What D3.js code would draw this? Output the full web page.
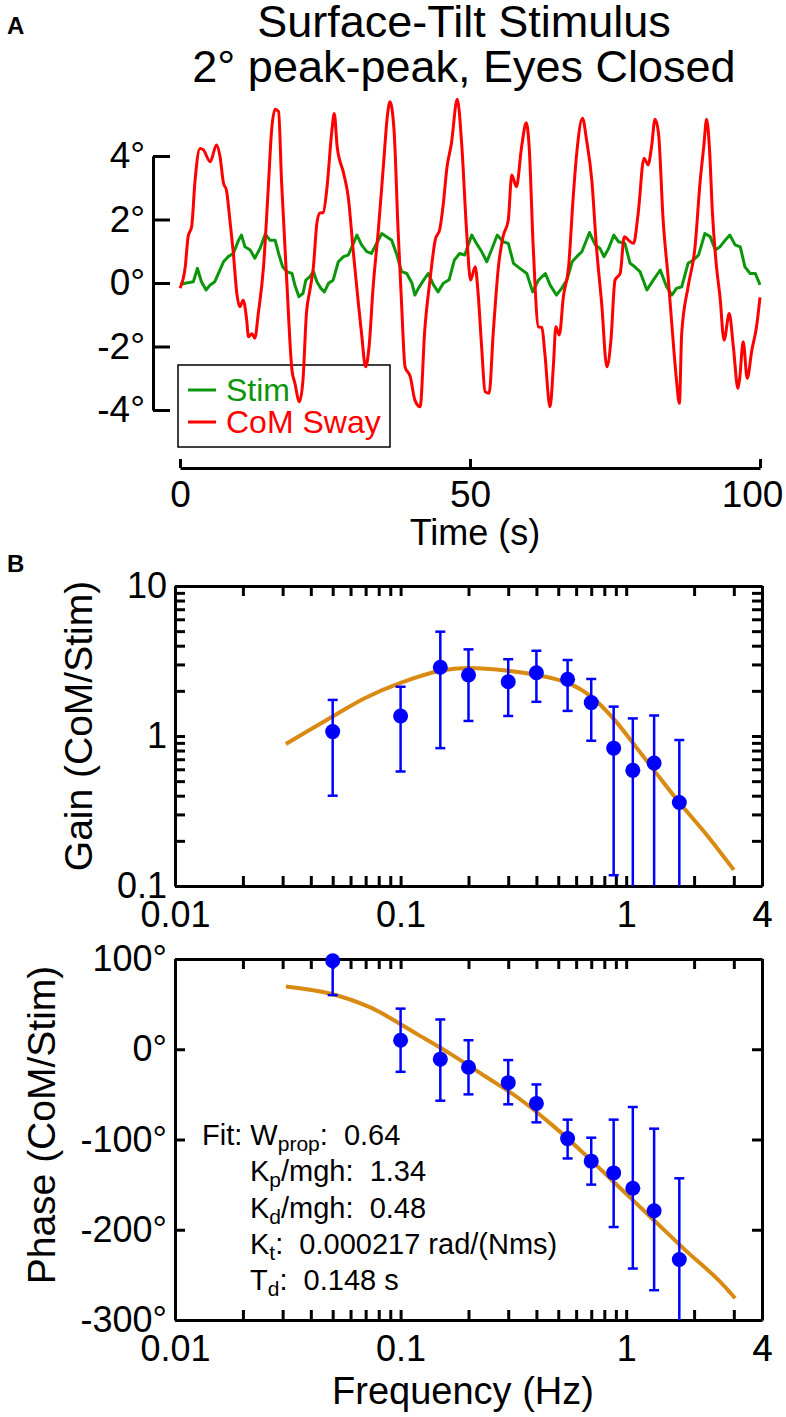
<!DOCTYPE html>
<html><head><meta charset="utf-8">
<script src="https://cdn.jsdelivr.net/npm/d3@7"></script>
<style>
html,body{margin:0;padding:0;background:#fff;}
svg{display:block;font-family:"Liberation Sans",Arial,Helvetica,sans-serif;}
</style></head><body>
<svg id="fig" width="786" height="1417"></svg>
<script>
// ---------------- Panel A data ----------------
const titleLines = ["Surface-Tilt Stimulus", "2° peak-peak, Eyes Closed"];
const timeTicks = [0, 50, 100];
const angleTicks = [-4, -2, 0, 2, 4];
const swayTime = [0,0.9,1.4,2.0,2.6,3.45,4.0,5.2,6.3,6.9,7.5,8.0,8.6,9.2,9.8,10.3,10.9,11.5,11.8,12.4,12.9,13.5,14.4,15.2,15.8,16.4,17.0,17.5,18.4,19.3,19.8,20.6,21.2,21.8,22.4,23.0,23.6,24.1,24.7,25.3,26.2,26.6,27.1,28.2,29.0,29.9,30.7,31.3,32.0,32.6,33.3,34.2,35.1,35.8,36.2,36.9,37.6,38.2,38.8,39.7,40.5,41.4,42.2,43.1,44.0,44.8,45.4,46.0,46.8,47.8,48.6,49.4,50.1,50.9,51.4,52.0,52.6,53.3,54.0,54.9,55.7,56.6,57.2,58.0,58.9,59.7,60.2,60.9,61.8,62.4,62.9,63.8,64.4,64.8,65.4,66.1,67.0,67.8,68.4,69.4,70.1,71.0,71.8,72.7,73.6,74.3,75.0,75.9,76.6,77.3,78.2,79.0,80.0,80.7,81.3,81.9,82.5,83.3,84.2,85.1,85.6,86.1,86.5,87.6,88.8,89.7,90.3,90.8,91.3,91.8,92.5,93.1,93.8,94.7,95.4,96.2,96.5,97.1,97.8,98.6,99.4,100];
const swayDeg = [-0.16,0.5,1.46,1.77,3.24,4.24,4.2,3.82,4.35,3.98,3.14,2.93,1.98,0.93,-0.33,-0.75,-0.54,-1.17,-1.69,-1.6,-1.74,-0.96,0.51,2.93,4.82,5.47,5.4,3.24,0.09,-2.74,-3.15,-3.74,-3.06,-0.96,-0.22,0.51,1.88,2.2,2.22,2.93,4.82,5.34,4.29,3.46,2.72,0.94,-0.54,-1.59,-2.64,-2.0,-0.12,1.67,3.77,5.34,5.71,4.82,1.67,-0.64,-2.64,-2.95,-3.69,-3.9,-1.48,0.09,1.35,1.7,2.5,3.6,4.4,5.79,4.29,1.67,0.09,0.51,-0.33,-2.0,-3.42,-3.47,-1.59,0.51,1.46,1.98,3.4,3.03,4.29,5.05,4.29,1.14,-1.38,-1.4,-2.21,-3.9,-2.53,-1.38,-1.64,-0.43,0.51,2.72,4.08,5.19,4.5,3.24,1.14,-0.64,-2.64,-1.8,0.09,0.31,1.46,1.35,1.25,2.2,3.93,3.72,4.29,5.16,4.72,1.98,0.09,-2.0,-3.06,-3.79,-1.59,-0.12,1.14,3.24,4.29,5.16,4.19,2.2,0.51,-0.43,-1.8,-0.96,-2.0,-3.32,-3.0,-1.85,-3.0,-2.11,-1.38,-0.45];
const stimTime = [0,2.3,3.0,3.7,4.5,5.2,6.0,6.9,7.5,8.3,9.2,10.1,10.6,11.2,12.1,12.9,13.8,14.7,15.5,16.4,17.0,17.7,18.4,19.3,19.8,20.5,21.2,21.7,22.4,23.0,23.6,24.3,24.9,25.6,26.4,27.3,28.2,29.0,29.9,30.5,31.3,32.2,33.0,33.9,34.8,35.6,36.5,37.4,38.2,39.1,40.0,40.5,41.1,42.0,42.8,43.7,44.5,45.4,46.4,47.3,48.2,49.1,50.3,51.1,52.0,52.9,53.7,54.7,55.7,56.6,57.5,58.6,59.8,60.8,61.8,63.0,63.8,64.9,65.8,66.7,67.6,68.4,69.3,70.6,71.6,72.4,73.1,73.9,74.8,75.6,76.7,77.6,78.4,79.3,80.5,81.6,82.8,83.9,84.8,85.6,86.5,87.6,88.5,89.4,90.5,91.4,92.3,93.1,94.0,94.8,95.7,96.6,97.4,98.3,99.2,100];
const stimDeg = [-0.04,0.04,0.46,0.04,-0.22,-0.06,0.04,0.41,0.67,0.83,0.93,1.35,1.51,1.14,1.04,0.78,1.09,1.54,1.35,1.35,0.93,0.51,0.36,0.3,-0.06,-0.43,-0.33,0.09,0.2,0.36,0.04,-0.17,-0.28,-0.01,0.09,0.67,0.83,0.88,1.25,1.51,1.2,0.99,0.93,1.25,1.56,1.46,1.35,0.88,0.36,0.3,-0.01,-0.38,-0.17,0.09,0.3,-0.06,-0.28,-0.01,0.1,0.72,0.93,0.88,1.51,1.25,0.99,0.67,1.04,1.51,1.3,1.25,0.62,0.46,0.3,-0.28,0.09,0.3,-0.06,-0.38,-0.17,0.09,0.67,0.83,0.99,1.59,1.2,1.09,0.83,1.09,1.51,1.3,1.25,0.62,0.51,0.36,-0.22,0.09,0.41,-0.12,-0.38,-0.17,-0.12,0.62,0.72,0.88,1.56,1.46,1.04,1.14,1.35,1.51,1.2,1.14,0.51,0.3,0.3,-0.06];
const legendLabels = ["Stim", "CoM Sway"];

// ---------------- Panel B data ----------------
const freqLabelVals = [0.01, 0.1, 1, 4];
const freqLabels = ["0.01", "0.1", "1", "4"];
const gainLabelVals = [0.1, 1, 10];
const gainLabels = ["0.1", "1", "10"];
const phaseTicks = [-300, -200, -100, 0, 100];
const freq = [0.05, 0.1, 0.15, 0.2, 0.3, 0.4, 0.55, 0.7, 0.88, 1.07, 1.33, 1.72];
const gain = [1.07, 1.36, 2.87, 2.55, 2.30, 2.64, 2.39, 1.67, 0.83, 0.59, 0.66, 0.36];
const gainHi = [1.74, 2.13, 4.96, 3.78, 3.25, 3.70, 3.21, 2.40, 1.57, 1.31, 1.37, 0.94];
const gainLo = [0.40, 0.58, 0.83, 1.26, 1.36, 1.69, 1.47, 0.93, 0.118, 0.05, 0.05, 0.05];
const phase = [98, 10, -11, -20, -37, -60, -99, -124, -137, -154, -179, -233];
const phaseHi = [136, 45, 33, 10, -12, -39, -78, -98, -78, -64, -88, -143];
const phaseLo = [60, -25, -57, -50, -61, -81, -121, -150, -197, -243, -267, -340];
const fitGainFreq = [0.031, 0.05, 0.07, 0.1, 0.15, 0.2, 0.3, 0.4, 0.55, 0.7, 0.88, 1.07, 1.33, 1.72, 2.3, 3.0];
const fitGain = [0.885, 1.35, 1.80, 2.26, 2.72, 2.84, 2.72, 2.55, 2.26, 1.83, 1.30, 0.90, 0.59, 0.36, 0.215, 0.128];
const fitPhaseFreq = [0.031, 0.0485, 0.073, 0.0975, 0.12, 0.169, 0.238, 0.334, 0.469, 0.659, 0.925, 1.30, 1.824, 2.56, 3.04];
const fitPhase = [69.5, 61.8, 46.6, 29.4, 15.9, -6.2, -30.2, -54.3, -83.8, -117, -152.1, -187.3, -222.3, -255.5, -275.9];
const NB = "\u00a0";
const fitText = [
  {pre: "Fit: W", sub: "prop", post: ":" + NB + NB + "0.64"},
  {pre: "K", sub: "p", post: "/mgh:" + NB + NB + "1.34"},
  {pre: "K", sub: "d", post: "/mgh:" + NB + NB + "0.48"},
  {pre: "K", sub: "t", post: ":" + NB + NB + "0.000217 rad/(Nms)"},
  {pre: "T", sub: "d", post: ":" + NB + NB + "0.148 s"}
];

// ---------------- drawing ----------------
const RED = "#ff0000", GREEN = "#0c960c", BLUE = "#0000ff", ORANGE = "#d98a12";
const svg = d3.select("#fig");
svg.append("rect").attr("width", 786).attr("height", 1417).attr("fill", "#fff");

function styleAxis(g, fs) {
  g.attr("font-family", null).attr("font-size", null);
  g.selectAll("path.domain").attr("stroke", "#000").attr("stroke-width", 3);
  g.selectAll(".tick line").attr("stroke", "#000").attr("stroke-width", 3);
  g.selectAll(".tick text").attr("fill", "#000").style("font-size", fs + "px");
}

// Panel labels
const panelFont = '"Liberation Sans Narrow","Liberation Sans",Arial,sans-serif';
svg.append("text").attr("x", 7).attr("y", 34).attr("font-weight", "bold").style("font-family", panelFont).style("font-size", "24px").text("A");
svg.append("text").attr("x", 7).attr("y", 572).attr("font-weight", "bold").style("font-family", panelFont).style("font-size", "24px").text("B");

// Title
svg.selectAll("text.title").data(titleLines).enter().append("text")
  .attr("class", "title").attr("x", 464).attr("y", (d, i) => 37 + i * 45)
  .attr("text-anchor", "middle").style("font-size", "45px").text(d => d);

// Panel A scales
const xA = d3.scaleLinear().domain([0, 100]).range([180, 760]);
const yA = d3.scaleLinear().domain([-4, 4]).range([410, 156]);

const gyA = svg.append("g").attr("transform", "translate(153,0)")
  .call(d3.axisLeft(yA).tickValues(angleTicks).tickFormat(d => d + "°").tickSizeInner(-17).tickSizeOuter(0).tickPadding(8));
styleAxis(gyA, 37);
const gxA = svg.append("g").attr("transform", "translate(0,468)")
  .call(d3.axisBottom(xA).tickValues(timeTicks).tickFormat(d => String(d)).tickSizeInner(-9).tickSizeOuter(0).tickPadding(13));
styleAxis(gxA, 37);
gxA.selectAll(".tick text").filter(d => d === 100).attr("x", -8);
svg.append("text").attr("x", 475).attr("y", 545).attr("text-anchor", "middle").style("font-size", "36px").text("Time (s)");

// Legend box (no fill, traces show through)
const legY = d3.scaleBand().domain(legendLabels).range([374, 438]);
svg.append("rect").attr("x", 178).attr("y", 365).attr("width", 212).attr("height", 82)
  .attr("fill", "none").attr("stroke", "#000").attr("stroke-width", 1.5);
const legColors = [GREEN, RED];
legendLabels.forEach((lab, i) => {
  const cy = legY(lab) + legY.bandwidth() / 2;
  svg.append("line").attr("x1", 188).attr("x2", 216).attr("y1", cy).attr("y2", cy)
    .attr("stroke", legColors[i]).attr("stroke-width", 3);
  svg.append("text").attr("x", 226).attr("y", cy + 11).attr("fill", legColors[i]).style("font-size", "32px").text(lab);
});

const stimPts = stimTime.map((t, i) => [t, stimDeg[i]]);
const swayPts = swayTime.map((t, i) => [t, swayDeg[i]]);
svg.append("path").datum(stimPts).attr("fill", "none").attr("stroke", GREEN).attr("stroke-width", 3)
  .attr("stroke-linejoin", "round")
  .attr("d", d3.line().x(d => xA(d[0])).y(d => yA(d[1])));
svg.append("path").datum(swayPts).attr("fill", "none").attr("stroke", RED).attr("stroke-width", 3)
  .attr("stroke-linejoin", "round")
  .attr("d", d3.line().x(d => xA(d[0])).y(d => yA(d[1])).curve(d3.curveMonotoneX));

// ---------------- Panel B ----------------
const xB = d3.scaleLog().domain([0.01, 4]).range([175, 762]);
const yG = d3.scaleLog().domain([0.1, 10]).range([886, 586]);
const yP = d3.scaleLinear().domain([-300, 100]).range([1320, 959]);

const xTickVals = [];
[0.01, 0.1, 1].forEach(dec => { for (let k = 1; k <= 9; k++) { const v = +(dec * k).toPrecision(3); if (v <= 4) xTickVals.push(v); } });
xTickVals.push(4);
const gTickVals = [];
[0.1, 1].forEach(dec => { for (let k = 1; k <= 9; k++) gTickVals.push(+(dec * k).toPrecision(3)); });
gTickVals.push(10);

function lookup(vals, labs) {
  return d => { const i = vals.findIndex(v => Math.abs(Math.log10(v) - Math.log10(d)) < 1e-6); return i >= 0 ? labs[i] : ""; };
}
const T = 10;
function framedAxes(yScale, yTickVals, yFmt, top, bottom) {
  const gb = svg.append("g").attr("transform", `translate(0,${bottom})`)
    .call(d3.axisBottom(xB).tickValues(xTickVals).tickFormat(lookup(freqLabelVals, freqLabels)).tickSizeInner(-T).tickSizeOuter(0).tickPadding(15));
  styleAxis(gb, 36);
  const gt = svg.append("g").attr("transform", `translate(0,${top})`)
    .call(d3.axisTop(xB).tickValues(xTickVals).tickFormat("").tickSizeInner(-T).tickSizeOuter(0));
  styleAxis(gt, 36);
  const gl = svg.append("g").attr("transform", "translate(175,0)")
    .call(d3.axisLeft(yScale).tickValues(yTickVals).tickFormat(yFmt).tickSizeInner(-T).tickSizeOuter(0).tickPadding(8));
  styleAxis(gl, 36);
  const gr = svg.append("g").attr("transform", "translate(762,0)")
    .call(d3.axisRight(yScale).tickValues(yTickVals).tickFormat("").tickSizeInner(-T).tickSizeOuter(0));
  styleAxis(gr, 36);
}
framedAxes(yG, gTickVals, lookup(gainLabelVals, gainLabels), 586, 886);
framedAxes(yP, phaseTicks, d => d + "°", 959, 1320);

// clip paths
const defs = svg.append("defs");
defs.append("clipPath").attr("id", "clipG").append("rect").attr("x", 175).attr("y", 586).attr("width", 587).attr("height", 300);
defs.append("clipPath").attr("id", "clipP").append("rect").attr("x", 175).attr("y", 959).attr("width", 587).attr("height", 361);

function dataLayer(yScale, vals, hi, lo, fitF, fitV, clipId) {
  const g = svg.append("g");
  const fitPts = fitF.map((f, i) => [f, fitV[i]]);
  g.append("path").datum(fitPts).attr("fill", "none").attr("stroke", ORANGE).attr("stroke-width", 4)
    .attr("d", d3.line().x(d => xB(d[0])).y(d => yScale(d[1])).curve(d3.curveCatmullRom.alpha(0.5)));
  const eb = g.append("g").attr("clip-path", `url(#${clipId})`).attr("stroke", BLUE).attr("stroke-width", 2.5);
  freq.forEach((f, i) => {
    const x = xB(f);
    eb.append("line").attr("x1", x).attr("x2", x).attr("y1", yScale(hi[i])).attr("y2", yScale(lo[i]));
    eb.append("line").attr("x1", x - 5).attr("x2", x + 5).attr("y1", yScale(hi[i])).attr("y2", yScale(hi[i]));
    eb.append("line").attr("x1", x - 5).attr("x2", x + 5).attr("y1", yScale(lo[i])).attr("y2", yScale(lo[i]));
  });
  g.selectAll("circle.pt").data(freq).enter().append("circle").attr("class", "pt")
    .attr("cx", d => xB(d)).attr("cy", (d, i) => yScale(vals[i])).attr("r", 7.5).attr("fill", BLUE);
}
dataLayer(yG, gain, gainHi, gainLo, fitGainFreq, fitGain, "clipG");
dataLayer(yP, phase, phaseHi, phaseLo, fitPhaseFreq, fitPhase, "clipP");

// axis titles
svg.append("text").attr("transform", "translate(92,726) rotate(-90)").attr("text-anchor", "middle")
  .style("font-size", "39px").text("Gain (CoM/Stim)");
svg.append("text").attr("transform", "translate(55,1125) rotate(-90)").attr("text-anchor", "middle")
  .style("font-size", "39px").text("Phase (CoM/Stim)");
svg.append("text").attr("x", 463).attr("y", 1404).attr("text-anchor", "middle")
  .style("font-size", "38px").text("Frequency (Hz)");

// fit text
const ft = svg.append("g").style("font-size", "29px");
fitText.forEach((ln, i) => {
  const t = ft.append("text").attr("x", i === 0 ? 202 : 250).attr("y", 1145 + i * 36.3);
  t.append("tspan").text(ln.pre);
  t.append("tspan").attr("dy", 6).style("font-size", "21px").text(ln.sub);
  t.append("tspan").attr("dy", -6).text(ln.post);
});
</script></body></html>
